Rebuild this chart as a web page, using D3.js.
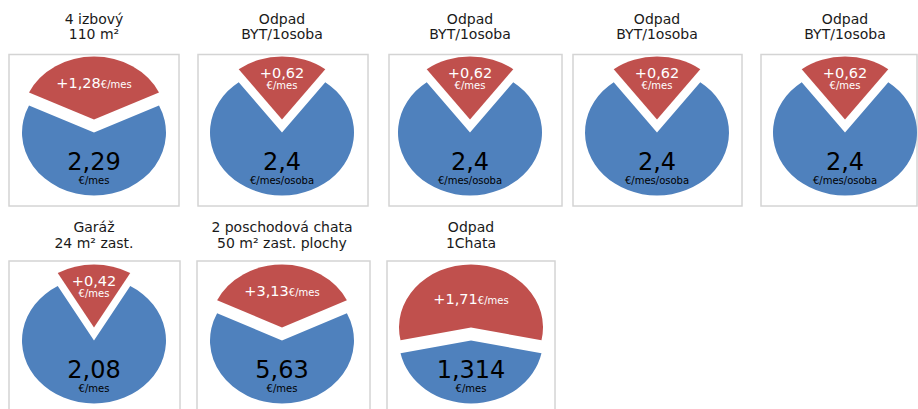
<!DOCTYPE html>
<html><head><meta charset="utf-8">
<script src="https://cdn.jsdelivr.net/npm/d3@7"></script>
<style>html,body{margin:0;padding:0;background:#fff;}svg{display:block;}</style>
</head><body><div id="chart"></div>
<script>
// ---- data ----
const titleLine1 = ["4 izbový", "Odpad", "Odpad", "Odpad", "Odpad", "Garáž", "2 poschodová chata", "Odpad"];
const titleLine2 = ["110 m²", "BYT/1osoba", "BYT/1osoba", "BYT/1osoba", "BYT/1osoba", "24 m² zast.", "50 m² zast. plochy", "1Chata"];
const baseValues = [2.29, 2.4, 2.4, 2.4, 2.4, 2.08, 5.63, 1.314];
const addedValues = [1.28, 0.62, 0.62, 0.62, 0.62, 0.42, 3.13, 1.71];
const baseUnits = ["€/mes", "€/mes/osoba", "€/mes/osoba", "€/mes/osoba", "€/mes/osoba", "€/mes", "€/mes", "€/mes"];
const addedUnit = "€/mes";

// ---- layout ----
const W = 918, H = 409;
const pieCx = [94, 282, 470, 657, 845, 94, 282, 471];
const boxX = [9, 198, 389, 573, 761, 9, 197, 387];
const boxW = [170, 170, 173, 169, 156, 171, 173, 168];
const rows = [
  {boxTop: 54.5, boxBottom: 206, pieMid: 126, title1: 23.5, title2: 38.5},
  {boxTop: 261, boxBottom: 440, pieMid: 334, title1: 232, title2: 248}
];
const rx = 72, ry = 63, explode = 6.5;
const fmt = v => String(v).replace(".", ",");
const blue = "#4F81BD", red = "#C0504D";
const font = "'DejaVu Sans', Verdana, sans-serif";

const svg = d3.select("#chart").append("svg").attr("width", W).attr("height", H);

const arc = d3.arc().innerRadius(0).outerRadius(rx);

baseValues.forEach((bv, i) => {
  const row = rows[i < 5 ? 0 : 1];
  const av = addedValues[i];
  const frac = av / (av + bv);
  const redAngle = frac * 2 * Math.PI;
  const g = svg.append("g");

  // box
  g.append("rect")
    .attr("x", boxX[i]).attr("y", row.boxTop)
    .attr("width", boxW[i]).attr("height", row.boxBottom - row.boxTop)
    .attr("fill", "#fff").attr("stroke", "#d4d4d4").attr("stroke-width", 1.5);

  // titles
  g.append("text").attr("x", pieCx[i]).attr("y", row.title1)
    .attr("text-anchor", "middle").attr("font-family", font).attr("font-size", 14)
    .attr("fill", "#1a1a1a").text(titleLine1[i]);
  g.append("text").attr("x", pieCx[i]).attr("y", row.title2)
    .attr("text-anchor", "middle").attr("font-family", font).attr("font-size", 14)
    .attr("fill", "#1a1a1a").text(titleLine2[i]);

  // pie
  const pie = d3.pie().sort(null).value(d => d.v)
    .startAngle(-redAngle / 2).endAngle(2 * Math.PI - redAngle / 2);
  const slices = pie([{v: av, c: red}, {v: bv, c: blue}]);
  const pg = g.append("g").attr("transform", `translate(${pieCx[i]},${row.pieMid}) scale(1,${ry / rx})`);
  pg.selectAll("path").data(slices).join("path")
    .attr("d", arc)
    .attr("fill", d => d.data.c)
    .attr("transform", d => {
      const m = (d.startAngle + d.endAngle) / 2;
      return `translate(${Math.sin(m) * explode * rx / ry},${-Math.cos(m) * explode * rx / ry})`;
    });

  // red label
  const redCy = row.pieMid - explode, blueCy = row.pieMid + explode;
  if (frac > 0.3) {
    const dist = frac > 0.5 ? ry * 0.45 : ry * 0.58;
    const t = g.append("text").attr("x", pieCx[i]).attr("y", redCy - dist + 5)
      .attr("text-anchor", "middle").attr("font-family", font).attr("fill", "#fff");
    t.append("tspan").attr("font-size", 14.5).text("+" + fmt(av));
    t.append("tspan").attr("font-size", 10).text(addedUnit);
  } else {
    g.append("text").attr("x", pieCx[i]).attr("y", redCy - 42)
      .attr("text-anchor", "middle").attr("font-family", font).attr("font-size", 14.5)
      .attr("fill", "#fff").text("+" + fmt(av));
    g.append("text").attr("x", pieCx[i]).attr("y", redCy - 30.5)
      .attr("text-anchor", "middle").attr("font-family", font).attr("font-size", 10)
      .attr("fill", "#fff").text(addedUnit);
  }

  // blue label
  g.append("text").attr("x", pieCx[i]).attr("y", blueCy + 37)
    .attr("text-anchor", "middle").attr("font-family", font).attr("font-size", 24)
    .attr("fill", "#000").text(fmt(bv));
  g.append("text").attr("x", pieCx[i]).attr("y", blueCy + 51)
    .attr("text-anchor", "middle").attr("font-family", font).attr("font-size", 10)
    .attr("fill", "#000").text(baseUnits[i]);
});
</script></body></html>
